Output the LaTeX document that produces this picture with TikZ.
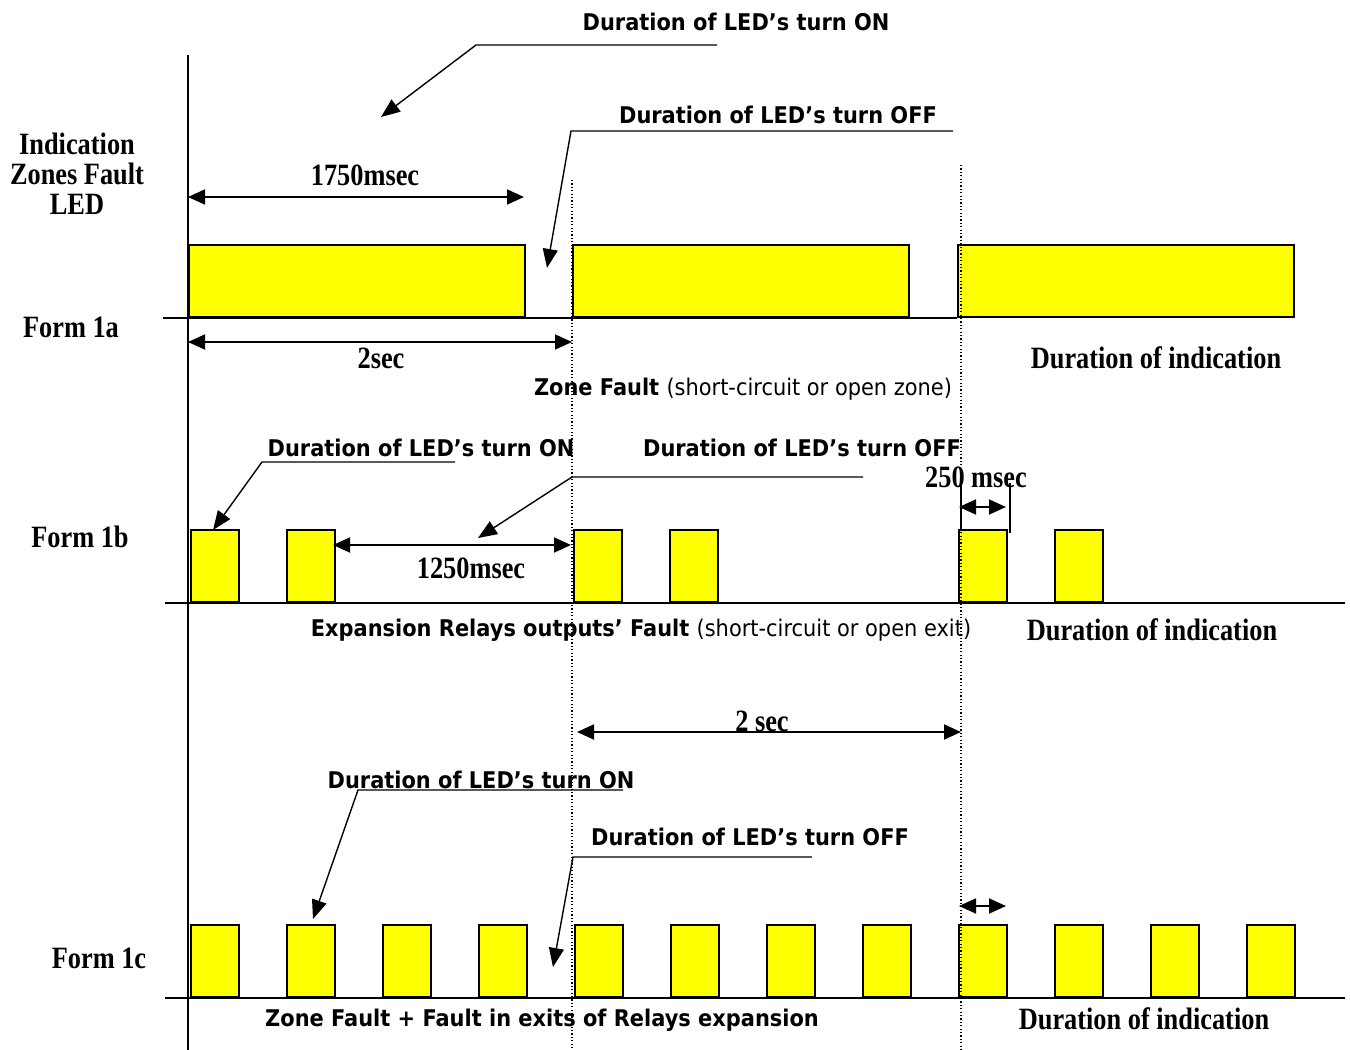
\documentclass[tikz,border=0pt]{standalone}
\usepackage{fontspec}
\newfontfamily\tms{Liberation Serif}[FakeStretch=0.85]
\newfontfamily\vrd{DejaVu Sans}[FakeStretch=0.91]
\usetikzlibrary{arrows.meta}
\definecolor{ledyellow}{RGB}{255,255,0}
\begin{document}
\begin{tikzpicture}[x=1pt,y=-1pt,
  ledbox/.style={draw=black,fill=ledyellow,line width=2pt,inner sep=0pt,anchor=south west,minimum height=72pt},
  shortbox/.style={ledbox,minimum width=48pt},
  longbox/.style={ledbox,minimum width=336pt},
  base/.style={line width=2pt},
  axis/.style={line width=1.5pt},
  guide/.style={line width=1.2pt,dash pattern=on 1.2pt off 2.2pt},
  dim/.style={line width=1.8pt,{Triangle[length=17pt,width=15pt]}-{Triangle[length=17pt,width=15pt]}},
  leader/.style={line width=1.4pt,-{Triangle[length=19pt,width=15pt]}},
  tick/.style={line width=1.6pt},
  vlab/.style={font=\vrd\bfseries\fontsize{23}{27}\selectfont,inner sep=0pt},
  vmix/.style={font=\vrd\fontsize{23}{27}\selectfont,inner sep=0pt},
  tlab/.style={font=\tms\bfseries\fontsize{31}{30}\selectfont,inner sep=0pt,align=center}
]
\useasboundingbox (0,0) rectangle (1350,1050);

% axis and baselines
\coordinate (axT) at (188,55);
\coordinate (axB) at (188,1050);
\draw[axis] (axT) -- (axB);
\coordinate (b1L) at (163,318); \coordinate (b1R) at (957,318);
\coordinate (b2L) at (165,603); \coordinate (b2R) at (1345,603);
\coordinate (b3L) at (165,998); \coordinate (b3R) at (1345,998);
\draw[base] (b1L) -- (b1R);
\draw[base] (b2L) -- (b2R);
\draw[base] (b3L) -- (b3R);

% Form 1a boxes
\node[longbox] (a1) at (188,318) {};
\node[longbox] (a2) at (572,318) {};
\node[longbox] (a3) at (957,318) {};

% Form 1b boxes
\node[shortbox] (p1) at (190,603) {};
\node[shortbox] (p2) at (286,603) {};
\node[shortbox] (p3) at (573,603) {};
\node[shortbox] (p4) at (669,603) {};
\node[shortbox] (p5) at (958,603) {};
\node[shortbox] (p6) at (1054,603) {};

% Form 1c boxes
\foreach \i in {0,...,11}{
  \node[shortbox] (c\i) at (190+96*\i,998) {};
}

% dotted guides
\coordinate (g1T) at (572,180); \coordinate (g1B) at (572,1050);
\coordinate (g2T) at (961,165); \coordinate (g2B) at (961,1050);
\draw[guide] (g1T) -- (g1B);
\draw[guide] (g2T) -- (g2B);

% left labels
\node[tlab] (ind) at (77,174) {Indication\\Zones Fault\\LED};
\node[tlab] (f1a) at (71,327) {Form 1a};
\node[tlab] (f1b) at (80,537) {Form 1b};
\node[tlab] (f1c) at (99,958) {Form 1c};

% dimension arrows
\coordinate (d1L) at (188,197); \coordinate (d1R) at (524,197);
\draw[dim] (d1L) -- (d1R);
\node[tlab] (t1750) at (365,175) {1750msec};
\coordinate (d2L) at (188,342); \coordinate (d2R) at (572,342);
\draw[dim] (d2L) -- (d2R);
\node[tlab] (t2s) at (381,358) {2sec};
\coordinate (d3L) at (333,545); \coordinate (d3R) at (571,545);
\draw[dim] (d3L) -- (d3R);
\node[tlab] (t1250) at (471,568) {1250msec};
\coordinate (d4L) at (959,507); \coordinate (d4R) at (1006,507);
\draw[dim] (d4L) -- (d4R);
\coordinate (k1T) at (961,483); \coordinate (k1B) at (961,531);
\coordinate (k2T) at (1010,483); \coordinate (k2B) at (1010,533);
\draw[tick] (k1T) -- (k1B);
\draw[tick] (k2T) -- (k2B);
\node[tlab] (t250) at (976,477) {250 msec};
\coordinate (d5L) at (577,732); \coordinate (d5R) at (961,732);
\draw[dim] (d5L) -- (d5R);
\node[tlab] (t2sb) at (762,721) {2 sec};
\coordinate (d6L) at (959,906); \coordinate (d6R) at (1006,906);
\draw[dim] (d6L) -- (d6R);

% Form 1a annotations
\node[vlab] (on1) at (736,22) {Duration of LED’s turn ON};
\coordinate (on1a) at (717,45); \coordinate (on1b) at (476,45); \coordinate (on1t) at (381,117);
\draw[leader] (on1a) -- (on1b) -- (on1t);
\node[vlab] (off1) at (778,115) {Duration of LED’s turn OFF};
\coordinate (off1a) at (953,131); \coordinate (off1b) at (571,131); \coordinate (off1t) at (547,268);
\draw[leader] (off1a) -- (off1b) -- (off1t);
\node[tlab] (di1) at (1156,358) {Duration of indication};
\node[vmix] (zf) at (743,389) {\bfseries Zone Fault \mdseries(short-circuit or open zone)};

% Form 1b annotations
\node[vlab] (on2) at (421,448) {Duration of LED’s turn ON};
\coordinate (on2a) at (455,462); \coordinate (on2b) at (262,462); \coordinate (on2t) at (213,530);
\draw[leader] (on2a) -- (on2b) -- (on2t);
\node[vlab] (off2) at (802,448) {Duration of LED’s turn OFF};
\coordinate (off2a) at (863,477); \coordinate (off2b) at (572,477); \coordinate (off2t) at (478,538);
\draw[leader] (off2a) -- (off2b) -- (off2t);
\node[vmix] (erf) at (641,630) {\bfseries Expansion Relays outputs’ Fault \mdseries(short-circuit or open exit)};
\node[tlab] (di2) at (1152,630) {Duration of indication};

% Form 1c annotations
\node[vlab] (on3) at (481,780) {Duration of LED’s turn ON};
\coordinate (on3a) at (623,790); \coordinate (on3b) at (358,790); \coordinate (on3t) at (313,919);
\draw[leader] (on3a) -- (on3b) -- (on3t);
\node[vlab] (off3) at (750,837) {Duration of LED’s turn OFF};
\coordinate (off3a) at (812,857); \coordinate (off3b) at (573,857); \coordinate (off3t) at (553,967);
\draw[leader] (off3a) -- (off3b) -- (off3t);
\node[vlab] (zfr) at (542,1020) {Zone Fault + Fault in exits of Relays expansion};
\node[tlab] (di3) at (1144,1019) {Duration of indication};
\end{tikzpicture}
\end{document}
